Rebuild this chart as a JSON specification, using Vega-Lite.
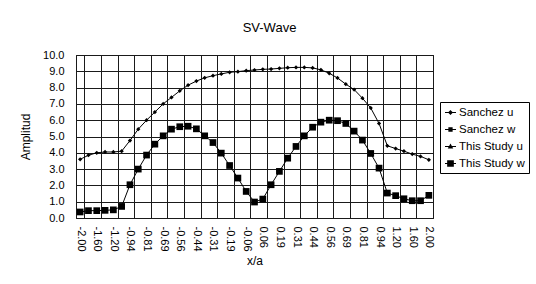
{
  "$schema": "https://vega.github.io/schema/vega-lite/v6.json",
  "width": 357,
  "height": 163,
  "autosize": "none",
  "padding": {"left": 76, "top": 55, "right": 103, "bottom": 66},
  "background": "white",
  "title": {"text": "SV-Wave", "font": "Liberation Sans", "fontSize": 13, "fontWeight": "normal", "color": "black", "anchor": "middle", "dx": 15, "offset": 14},
  "datasets": {
    "pts": [
      {"x":"-2.00","u":3.6,"w":0.37},{"x":"-1.80","u":3.85,"w":0.45},{"x":"-1.60","u":4.0,"w":0.45},{"x":"-1.40","u":4.05,"w":0.47},
      {"x":"-1.20","u":4.05,"w":0.5},{"x":"-1.00","u":4.1,"w":0.71},{"x":"-0.94","u":4.75,"w":2.04},{"x":"-0.88","u":5.45,"w":3.0},
      {"x":"-0.81","u":6.0,"w":3.86},{"x":"-0.75","u":6.5,"w":4.53},{"x":"-0.69","u":7.0,"w":5.04},{"x":"-0.63","u":7.4,"w":5.45},
      {"x":"-0.56","u":7.8,"w":5.6},{"x":"-0.50","u":8.15,"w":5.63},{"x":"-0.44","u":8.4,"w":5.47},{"x":"-0.38","u":8.6,"w":5.04},
      {"x":"-0.31","u":8.73,"w":4.63},{"x":"-0.25","u":8.84,"w":3.98},{"x":"-0.19","u":8.94,"w":3.22},{"x":"-0.13","u":8.98,"w":2.45},
      {"x":"-0.06","u":9.04,"w":1.63},{"x":"0.00","u":9.08,"w":0.98},{"x":"0.06","u":9.12,"w":1.16},{"x":"0.13","u":9.14,"w":2.04},
      {"x":"0.19","u":9.18,"w":2.86},{"x":"0.25","u":9.22,"w":3.67},{"x":"0.31","u":9.24,"w":4.39},{"x":"0.38","u":9.24,"w":5.04},
      {"x":"0.44","u":9.21,"w":5.57},{"x":"0.50","u":9.09,"w":5.88},{"x":"0.56","u":8.88,"w":6.0},{"x":"0.63","u":8.59,"w":5.97},
      {"x":"0.69","u":8.21,"w":5.8},{"x":"0.75","u":7.88,"w":5.33},{"x":"0.81","u":7.35,"w":4.78},{"x":"0.88","u":6.75,"w":3.96},
      {"x":"0.94","u":5.8,"w":3.06},{"x":"1.00","u":4.43,"w":1.53},{"x":"1.20","u":4.26,"w":1.37},{"x":"1.40","u":4.1,"w":1.18},
      {"x":"1.60","u":3.92,"w":1.06},{"x":"1.80","u":3.78,"w":1.06},{"x":"2.00","u":3.57,"w":1.39}
    ]
  },
  "data": {"name": "pts"},
  "transform": [
    {"fold": ["u", "w"], "as": ["comp", "a"]}
  ],
  "encoding": {
    "x": {
      "field": "x", "type": "nominal",
      "scale": {"type": "band", "paddingInner": 0, "paddingOuter": 0,
        "domain": ["-2.00","-1.80","-1.60","-1.40","-1.20","-1.00","-0.94","-0.88","-0.81","-0.75","-0.69","-0.63","-0.56","-0.50","-0.44","-0.38","-0.31","-0.25","-0.19","-0.13","-0.06","0.00","0.06","0.13","0.19","0.25","0.31","0.38","0.44","0.50","0.56","0.63","0.69","0.75","0.81","0.88","0.94","1.00","1.20","1.40","1.60","1.80","2.00"]},
      "axis": {
        "title": "x/a",
        "values": ["-2.00","-1.60","-1.20","-0.94","-0.81","-0.69","-0.56","-0.44","-0.31","-0.19","-0.06","0.06","0.19","0.31","0.44","0.56","0.69","0.81","0.94","1.20","1.60","2.00"],
        "labelAngle": 90, "labelPadding": 8, "ticks": false, "domain": false,
        "tickBand": "extent", "grid": true, "gridColor": "#1a1a1a", "gridWidth": 1, "gridOpacity": 1,
        "titlePadding": 4
      }
    },
    "y": {
      "field": "a", "type": "quantitative",
      "scale": {"domain": [0, 10], "nice": false, "zero": true},
      "axis": {
        "title": "Amplitud", "values": [0,1,2,3,4,5,6,7,8,9,10], "format": ".1f",
        "ticks": false, "domain": false, "labelPadding": 12,
        "grid": true, "gridColor": "#1a1a1a", "gridWidth": 1, "gridOpacity": 1,
        "titlePadding": 10
      }
    }
  },
  "layer": [
    {
      "mark": {"type": "line", "color": "black", "strokeWidth": 1},
      "encoding": {"detail": {"field": "comp"}}
    },
    {
      "mark": {"type": "point", "filled": true, "color": "black", "opacity": 1},
      "encoding": {
        "shape": {"field": "comp", "type": "nominal", "scale": {"domain": ["u", "w"], "range": ["diamond", "square"]}, "legend": null},
        "size": {"field": "comp", "type": "nominal", "scale": {"domain": ["u", "w"], "range": [18, 45]}, "legend": null}
      }
    },
    {
      "data": {"values": [{"s": "Sanchez u"}]},
      "transform": [{"filter": "false"}],
      "mark": {"type": "point", "filled": false, "stroke": "black", "strokeWidth": 1.2, "opacity": 1},
      "encoding": {
        "x": {"value": 0},
        "y": {"value": 0},
        "shape": {
          "field": "s", "type": "nominal",
          "scale": {
            "domain": ["Sanchez u", "Sanchez w", "This Study u", "This Study w"],
            "range": [
              "M-1,0H1M0,-0.3L0.3,0L0,0.3L-0.3,0ZM0,-0.1L0.1,0L0,0.1L-0.1,0Z",
              "M-1,0H1M-0.28,-0.28H0.28V0.28H-0.28ZM-0.1,-0.1H0.1V0.1H-0.1Z",
              "M-1,0H1M0,-0.32L0.32,0.26H-0.32ZM0,-0.1L0.1,0.1H-0.1Z",
              "M-1,0H1M-0.5,-0.5H0.5V0.5H-0.5ZM-0.3,-0.3H0.3V0.3H-0.3ZM-0.1,-0.1H0.1V0.1H-0.1Z"
            ]
          },
          "legend": {
            "title": null, "orient": "none", "legendX": 364, "legendY": 47,
            "strokeColor": "black", "padding": 4, "rowPadding": 5, "fillColor": "white",
            "labelFont": "Liberation Sans", "labelFontSize": 11.5, "labelColor": "black",
            "symbolSize": 121, "symbolStrokeColor": "black", "symbolStrokeWidth": 1.2, "symbolFillColor": "transparent",
            "symbolOffset": 0, "labelOffset": 2
          }
        }
      }
    }
  ],
  "resolve": {"scale": {"shape": "independent"}, "legend": {"shape": "independent"}},
  "config": {
    "font": "Liberation Sans",
    "view": {"stroke": "black", "strokeWidth": 1},
    "axis": {"labelFont": "Liberation Sans", "labelFontSize": 11, "labelColor": "black", "titleFont": "Liberation Sans", "titleFontSize": 12, "titleFontWeight": "normal", "titleColor": "black"}
  }
}
